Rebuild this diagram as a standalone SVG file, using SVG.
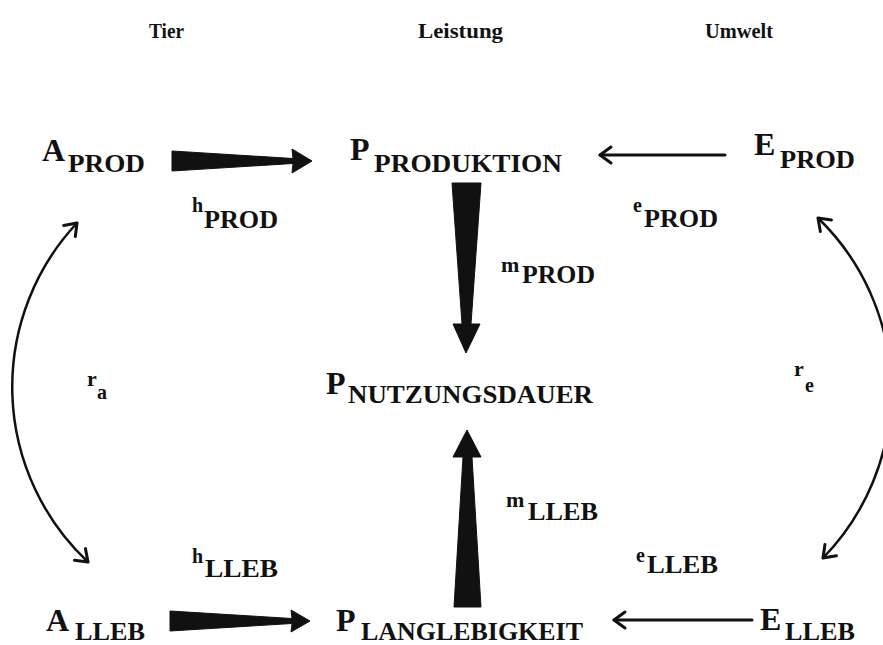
<svg xmlns="http://www.w3.org/2000/svg" width="883" height="645" viewBox="0 0 883 645">
<style>
text{font-family:"Liberation Serif","Times New Roman",serif;font-weight:bold;fill:#111}
.hdr{font-size:22px}
.main{font-size:32px}
.sub{font-size:26px}
.sup{font-size:20px}
.supm{font-size:22px}
.lab{font-size:22px}
.line{fill:none;stroke:#111;stroke-width:3;stroke-linecap:round}
.arc{fill:none;stroke:#111;stroke-width:2.5;stroke-linecap:round}
.wedge{fill:#111;stroke:#111;stroke-width:1;stroke-linejoin:round}
</style>
<defs>
<marker id="chev" markerUnits="userSpaceOnUse" markerWidth="30" markerHeight="30" viewBox="-15 -15 30 30" refX="0" refY="0" orient="auto-start-reverse">
<path d="M -11 -8 L 0 0 L -11 8" fill="none" stroke="#111" stroke-width="3" stroke-linecap="round" stroke-linejoin="round"/>
</marker>
</defs>
<rect width="883" height="645" fill="#fff"/>
<g id="headers">
<text class="hdr" x="149" y="38" textLength="35" lengthAdjust="spacingAndGlyphs">Tier</text>
<text class="hdr" x="418" y="38" textLength="85" lengthAdjust="spacingAndGlyphs">Leistung</text>
<text class="hdr" x="705" y="38" textLength="68" lengthAdjust="spacingAndGlyphs">Umwelt</text>
</g>
<g id="A_PROD"><text class="main" x="42" y="161">A</text><text class="sub" x="68" y="172" textLength="77" lengthAdjust="spacingAndGlyphs">PROD</text></g>
<g id="P_PRODUKTION"><text class="main" x="350" y="160">P</text><text class="sub" x="374" y="172" textLength="188" lengthAdjust="spacingAndGlyphs">PRODUKTION</text></g>
<g id="E_PROD"><text class="main" x="754" y="155">E</text><text class="sub" x="780" y="168" textLength="75" lengthAdjust="spacingAndGlyphs">PROD</text></g>
<g id="P_NUTZUNGSDAUER"><text class="main" x="326" y="394">P</text><text class="sub" x="348" y="403" textLength="245" lengthAdjust="spacingAndGlyphs">NUTZUNGSDAUER</text></g>
<g id="A_LLEB"><text class="main" x="46" y="631">A</text><text class="sub" x="75" y="640" textLength="70" lengthAdjust="spacingAndGlyphs">LLEB</text></g>
<g id="P_LANGLEBIGKEIT"><text class="main" x="336" y="631">P</text><text class="sub" x="361" y="640" textLength="222" lengthAdjust="spacingAndGlyphs">LANGLEBIGKEIT</text></g>
<g id="E_LLEB"><text class="main" x="760" y="630">E</text><text class="sub" x="785" y="640" textLength="70" lengthAdjust="spacingAndGlyphs">LLEB</text></g>
<g id="connectors">
<polygon class="wedge" points="172,151 293,158.5 292,149 312,161 292,173 293,163.5 172,171"/>
<polygon class="wedge" points="170,611 292,618.5 291,610 310,621 291,632 292,623.5 170,631"/>
<polygon class="wedge" points="452,183 481,183 471,324 480,324 466,353 453,324 462,324"/>
<polygon class="wedge" points="454,607 481,607 472,457 481,457 467,430 453,457 463,457"/>
<path class="line" d="M 725 155 L 600 155" marker-end="url(#chev)"/>
<path class="line" d="M 752 620 L 614 620" marker-end="url(#chev)"/>
<path class="arc" d="M 77 223 A 240 240 0 0 0 88 562" marker-start="url(#chev)" marker-end="url(#chev)"/>
<path class="arc" d="M 818 218 A 240 240 0 0 1 823 558" marker-start="url(#chev)" marker-end="url(#chev)"/>
</g>
<g id="labels">
<text class="sup" x="192" y="212">h</text><text class="sub" x="204" y="228" textLength="74" lengthAdjust="spacingAndGlyphs">PROD</text>
<text class="sup" x="633" y="212">e</text><text class="sub" x="644" y="227" textLength="74" lengthAdjust="spacingAndGlyphs">PROD</text>
<text class="supm" x="501" y="272">m</text><text class="sub" x="522" y="283" textLength="73" lengthAdjust="spacingAndGlyphs">PROD</text>
<text class="lab" x="87" y="386">r</text><text class="sup" x="97" y="399">a</text>
<text class="lab" x="794" y="376">r</text><text class="sup" x="805" y="392">e</text>
<text class="supm" x="506" y="507">m</text><text class="sub" x="528" y="520" textLength="70" lengthAdjust="spacingAndGlyphs">LLEB</text>
<text class="sup" x="192" y="563">h</text><text class="sub" x="205" y="577" textLength="73" lengthAdjust="spacingAndGlyphs">LLEB</text>
<text class="sup" x="636" y="562">e</text><text class="sub" x="647" y="573" textLength="71" lengthAdjust="spacingAndGlyphs">LLEB</text>
</g>
</svg>
